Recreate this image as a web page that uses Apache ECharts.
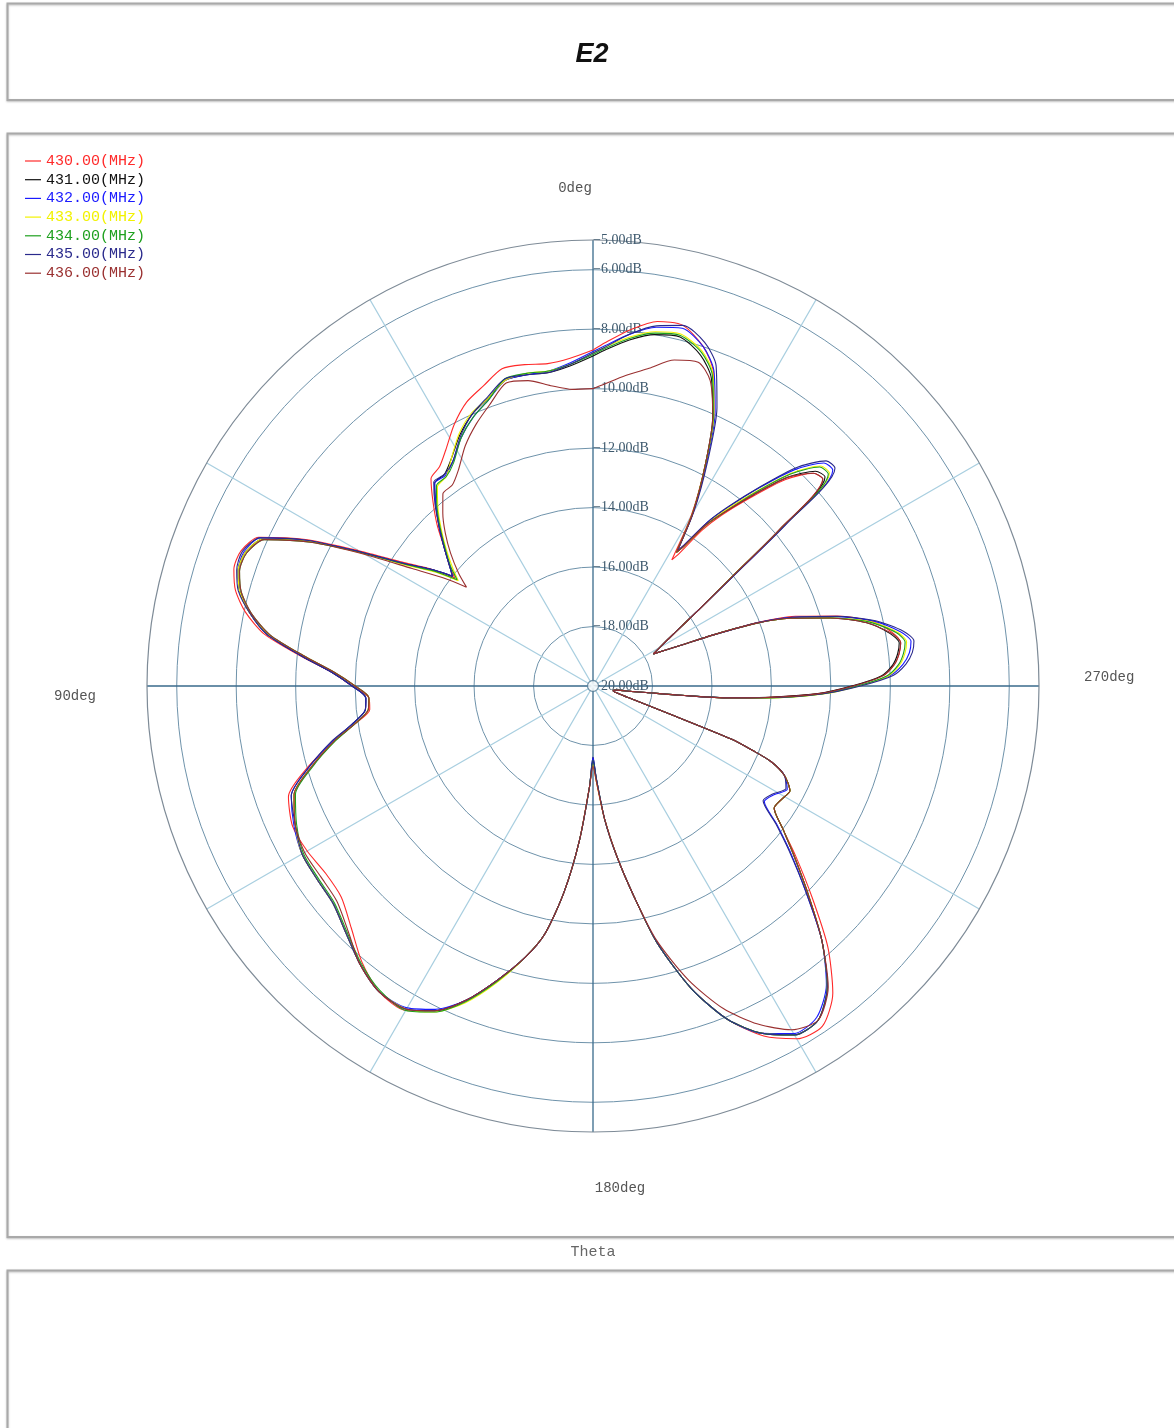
<!DOCTYPE html>
<html><head><meta charset="utf-8">
<script src="https://cdn.jsdelivr.net/npm/echarts@6/dist/echarts.min.js"></script>
<style>html,body{margin:0;padding:0;background:#fff}#c{width:1174px;height:1428px}</style>
</head><body><div id="c"></div>
<script>
// Theta angles (deg), shared by all frequency curves
const angles = [0,4,8,12,16,20,24,28,32,35,38,41,44,47,50,52,54,57,60,63,66,69,72,75,78,81,84,87,90,93,96,99,102,106,110,115,120,125,130,135,140,145,150,154,158,162,166,169,172,175,178,180,182,185,188,191,194,198,202,206,210,214,218,222,226,230,233,236,239,242,245,247,248,249,250,251,252,254,256,258,260,262,263,264,265,266,268,270,272,274,276,278,280,283,286,289,291,293,295,298,300,302,304,306,308,310,312,314,317,320,323,325,327,328,330,333,336,339,342,346,350,354,358,360];

const seriesNames = ['430.00(MHz)','431.00(MHz)','432.00(MHz)','433.00(MHz)','434.00(MHz)','435.00(MHz)','436.00(MHz)'];
const seriesColors = ['#ff2a2a','#111111','#1a1aff','#f2f200','#1ea01e','#2a2a8c','#9a3030'];

const s430 = [-8.7,-8.95,-9.05,-8.95,-8.9,-9.25,-9.55,-10.05,-10.65,-11.0,-11.15,-11.8,-12.45,-13.15,-13.7,-14.1,-13.35,-12.35,-10.9,-9.15,-7.7,-7.32,-7.3,-7.55,-8.05,-8.8,-10.05,-11.2,-11.9,-12.45,-12.45,-11.9,-11.1,-10.0,-9.1,-8.85,-8.9,-9.02,-8.95,-8.5,-7.9,-7.45,-7.4,-7.85,-8.6,-9.6,-10.6,-11.5,-13.0,-14.8,-16.6,-17.4,-16.8,-15.5,-14.2,-12.8,-11.1,-9.3,-7.9,-6.9,-6.3,-6.2,-6.9,-8.2,-9.75,-11.1,-12.0,-12.65,-12.6,-12.5,-12.9,-13.5,-14.2,-15.0,-17.3,-18.3,-18.8,-19.2,-19.3,-19.3,-19.2,-18.7,-18.2,-16.95,-15.35,-14.35,-12.45,-11.25,-10.25,-9.85,-9.65,-9.55,-9.75,-10.35,-11.45,-12.8,-14.0,-15.6,-16.8,-17.7,-17.4,-17.0,-16.4,-15.5,-14.2,-11.8,-9.6,-9.7,-10.5,-11.7,-12.8,-13.6,-14.7,-15.0,-13.4,-11.7,-10.0,-8.7,-8.0,-7.5,-7.55,-7.95,-8.45,-8.7];
const s431 = [-8.9,-9.2,-9.35,-9.3,-9.3,-9.7,-10.0,-10.45,-11.0,-11.3,-11.35,-11.95,-12.55,-13.15,-13.7,-14.0,-13.35,-12.45,-11.0,-9.3,-7.85,-7.47,-7.45,-7.7,-8.2,-8.9,-10.1,-11.2,-11.9,-12.35,-12.3,-11.8,-11.1,-10.15,-9.3,-8.95,-8.7,-8.67,-8.6,-8.25,-7.8,-7.45,-7.45,-7.85,-8.6,-9.6,-10.6,-11.5,-13.0,-14.8,-16.6,-17.6,-16.9,-15.5,-14.2,-12.8,-11.1,-9.3,-7.9,-7.0,-6.45,-6.45,-7.2,-8.5,-9.95,-11.2,-12.0,-12.65,-12.6,-12.5,-12.9,-13.5,-14.2,-15.0,-17.3,-18.3,-18.8,-19.2,-19.3,-19.3,-19.2,-18.7,-18.2,-17.0,-15.4,-14.4,-12.5,-11.3,-10.3,-9.9,-9.7,-9.6,-9.85,-10.55,-11.7,-13.0,-14.1,-15.6,-16.8,-17.7,-17.4,-17.0,-16.4,-15.5,-14.2,-11.8,-9.5,-9.6,-10.4,-11.6,-12.7,-13.4,-14.4,-14.7,-13.3,-11.7,-10.1,-8.9,-8.3,-7.9,-8.0,-8.3,-8.7,-8.9];
const s432 = [-8.75,-9.1,-9.3,-9.3,-9.3,-9.75,-10.1,-10.55,-11.1,-11.35,-11.35,-11.95,-12.55,-13.15,-13.7,-14.0,-13.35,-12.45,-11.0,-9.25,-7.75,-7.42,-7.45,-7.7,-8.2,-8.9,-10.1,-11.2,-11.9,-12.35,-12.3,-11.8,-11.05,-10.05,-9.2,-8.9,-8.7,-8.67,-8.6,-8.25,-7.8,-7.45,-7.5,-7.9,-8.6,-9.6,-10.6,-11.5,-13.0,-14.8,-16.6,-17.6,-16.9,-15.5,-14.2,-12.8,-11.1,-9.3,-7.9,-7.0,-6.5,-6.55,-7.25,-8.5,-10.05,-11.35,-12.25,-13.05,-12.9,-12.6,-12.9,-13.5,-14.2,-15.0,-17.3,-18.3,-18.8,-19.2,-19.3,-19.3,-19.2,-18.7,-18.2,-17.0,-15.4,-14.3,-12.35,-11.1,-10.0,-9.55,-9.3,-9.2,-9.5,-10.3,-11.55,-12.9,-14.05,-15.6,-16.8,-17.7,-17.4,-17.0,-16.4,-15.5,-14.1,-11.55,-9.15,-9.2,-10.05,-11.3,-12.5,-13.25,-14.3,-14.65,-13.25,-11.6,-9.9,-8.65,-8.0,-7.6,-7.75,-8.1,-8.55,-8.75];
const s433 = [-8.8,-9.15,-9.3,-9.25,-9.3,-9.7,-9.95,-10.4,-11.0,-11.4,-11.5,-12.05,-12.65,-13.25,-13.85,-14.25,-13.5,-12.55,-11.1,-9.3,-7.85,-7.47,-7.45,-7.7,-8.2,-8.95,-10.2,-11.3,-12.0,-12.45,-12.4,-11.9,-11.1,-10.15,-9.3,-8.95,-8.7,-8.67,-8.6,-8.25,-7.8,-7.45,-7.45,-7.8,-8.5,-9.5,-10.6,-11.5,-13.0,-14.8,-16.6,-17.4,-16.8,-15.5,-14.2,-12.8,-11.1,-9.3,-7.9,-7.0,-6.45,-6.45,-7.2,-8.5,-9.95,-11.2,-12.0,-12.65,-12.6,-12.5,-12.9,-13.5,-14.2,-15.0,-17.3,-18.3,-18.8,-19.2,-19.3,-19.3,-19.2,-18.7,-18.2,-17.0,-15.3,-14.15,-12.25,-11.05,-10.05,-9.65,-9.45,-9.35,-9.6,-10.4,-11.7,-13.0,-14.1,-15.6,-16.8,-17.7,-17.4,-17.0,-16.4,-15.5,-14.2,-11.7,-9.3,-9.35,-10.2,-11.45,-12.6,-13.4,-14.4,-14.7,-13.3,-11.7,-10.0,-8.75,-8.15,-7.8,-7.9,-8.2,-8.6,-8.8];
const s434 = [-8.85,-9.15,-9.3,-9.25,-9.25,-9.75,-10.1,-10.55,-11.15,-11.4,-11.45,-12.0,-12.6,-13.2,-13.75,-14.2,-13.45,-12.5,-11.05,-9.35,-7.9,-7.52,-7.5,-7.75,-8.25,-9.0,-10.2,-11.3,-12.0,-12.45,-12.4,-11.9,-11.15,-10.2,-9.35,-9.0,-8.75,-8.72,-8.65,-8.3,-7.85,-7.5,-7.4,-7.8,-8.55,-9.55,-10.6,-11.5,-13.0,-14.8,-16.6,-17.5,-16.9,-15.5,-14.2,-12.8,-11.1,-9.3,-7.9,-7.0,-6.45,-6.45,-7.2,-8.5,-9.95,-11.2,-12.0,-12.65,-12.6,-12.5,-12.9,-13.5,-14.2,-15.0,-17.3,-18.3,-18.8,-19.2,-19.3,-19.3,-19.2,-18.7,-18.2,-17.0,-15.35,-14.2,-12.3,-11.1,-10.1,-9.7,-9.5,-9.4,-9.65,-10.45,-11.7,-13.0,-14.1,-15.6,-16.8,-17.7,-17.4,-17.0,-16.4,-15.5,-14.2,-11.7,-9.35,-9.4,-10.25,-11.5,-12.7,-13.4,-14.4,-14.7,-13.3,-11.7,-10.05,-8.8,-8.2,-7.85,-7.95,-8.25,-8.65,-8.85];
const s435 = [-8.8,-9.15,-9.35,-9.3,-9.25,-9.65,-10.0,-10.5,-11.1,-11.3,-11.3,-11.9,-12.55,-13.15,-13.7,-14.0,-13.35,-12.45,-11.0,-9.2,-7.75,-7.37,-7.4,-7.65,-8.2,-8.9,-10.1,-11.2,-11.9,-12.35,-12.3,-11.8,-11.0,-10.05,-9.2,-8.95,-8.7,-8.67,-8.6,-8.25,-7.8,-7.45,-7.45,-7.85,-8.6,-9.6,-10.6,-11.5,-13.0,-14.8,-16.6,-17.5,-16.9,-15.5,-14.2,-12.8,-11.1,-9.3,-7.9,-7.0,-6.45,-6.45,-7.2,-8.5,-10.05,-11.4,-12.3,-13.1,-12.95,-12.65,-12.9,-13.5,-14.2,-15.0,-17.3,-18.3,-18.8,-19.2,-19.3,-19.3,-19.2,-18.7,-18.2,-17.0,-15.4,-14.3,-12.3,-11.0,-9.9,-9.45,-9.2,-9.1,-9.4,-10.25,-11.5,-12.9,-14.05,-15.6,-16.8,-17.7,-17.4,-17.0,-16.4,-15.5,-14.05,-11.45,-9.05,-9.1,-9.95,-11.25,-12.45,-13.25,-14.3,-14.65,-13.2,-11.5,-9.75,-8.45,-7.85,-7.5,-7.7,-8.1,-8.6,-8.8];
const s436 = [-10.0,-10.0,-9.8,-9.5,-9.4,-9.9,-10.35,-10.85,-11.45,-11.75,-11.8,-12.3,-12.85,-13.45,-14.1,-14.6,-13.85,-12.75,-11.15,-9.35,-7.9,-7.52,-7.5,-7.75,-8.25,-9.0,-10.2,-11.3,-12.0,-12.45,-12.4,-11.9,-11.1,-10.15,-9.3,-8.95,-8.8,-8.82,-8.75,-8.35,-7.8,-7.45,-7.45,-7.85,-8.6,-9.6,-10.6,-11.5,-13.0,-14.8,-16.6,-17.3,-16.8,-15.5,-14.2,-12.8,-11.2,-9.6,-8.3,-7.35,-6.65,-6.45,-7.15,-8.5,-9.95,-11.2,-12.0,-12.65,-12.6,-12.5,-12.9,-13.5,-14.2,-15.0,-17.3,-18.3,-18.8,-19.2,-19.3,-19.3,-19.2,-18.7,-18.2,-17.0,-15.4,-14.35,-12.45,-11.25,-10.25,-9.85,-9.65,-9.55,-9.8,-10.55,-11.7,-13.0,-14.1,-15.6,-16.8,-17.7,-17.4,-17.0,-16.4,-15.5,-14.2,-11.8,-9.6,-9.7,-10.4,-11.6,-12.7,-13.4,-14.4,-14.7,-13.3,-11.7,-10.1,-9.0,-8.55,-8.7,-9.15,-9.5,-9.85,-10.0];
const seriesValues = [s430, s431, s432, s433, s434, s435, s436];

// radial tick labels (dB) shown on the vertical axis
const radiusLabelValues = [-5,-6,-8,-10,-12,-14,-16,-18,-20];
// angle labels
const angleLabelValues = [0, 90, 180, 270];

const serif = '"Liberation Serif","DejaVu Serif",serif';
const mono = '"Liberation Mono","DejaVu Sans Mono",monospace';
const chart = echarts.init(document.getElementById('c'), null, {renderer:'canvas'});

const circle = '#6f93ab', circleOuter = '#7e8b97', clear = 'rgba(0,0,0,0)';
const series = seriesNames.map((n, i) => ({
  name: n, type: 'line', coordinateSystem: 'polar',
  data: seriesValues[i].map((v, j) => [v, angles[j]]),
  showSymbol: false, symbol: 'none', smooth: 0.25,
  lineStyle: {color: seriesColors[i], width: 1.1},
  itemStyle: {color: seriesColors[i]},
  emphasis: {disabled: true}, animation: false, z: 3 + i * 0.01
}));
series.push({
  type: 'scatter', coordinateSystem: 'polar', name: 'center', silent: true,
  data: [[-20, 0]], symbol: 'circle', symbolSize: 11, z: 10,
  itemStyle: {color: '#ffffff', borderColor: '#4f7894', borderWidth: 1.3}
});

const box = (y, h) => ({
  type: 'rect', shape: {x: 7.5, y: y, width: 1175, height: h},
  style: {fill: 'none', stroke: '#a9a9a9', lineWidth: 2, shadowBlur: 2, shadowColor: 'rgba(0,0,0,0.25)', shadowOffsetY: 1}, silent: true
});
const angleRich = (pad) => ({fontFamily: mono, fontSize: 14, color: '#555', padding: pad});

chart.setOption({
  backgroundColor: '#ffffff',
  animation: false,
  title: [
    {text: 'E2', left: 587, top: 36, textAlign: 'center',
     textStyle: {fontFamily: '"Liberation Sans",Arial,sans-serif', fontSize: 27, fontWeight: 'bold', fontStyle: 'italic', color: '#111'}},
    {text: 'Theta', left: 588, top: 1240, textAlign: 'center',
     textStyle: {fontFamily: mono, fontSize: 15, fontWeight: 'normal', color: '#666'}}
  ],
  graphic: [box(3.5, 96.5), box(133.5, 1103.5), box(1270.5, 170)],
  legend: {
    orient: 'vertical', left: 20, top: 148, itemWidth: 16, itemHeight: 1.2, itemGap: 2.7,
    icon: 'rect', selectedMode: false,
    textStyle: {fontFamily: mono, fontSize: 15, lineHeight: 16},
    data: seriesNames.map((n, i) => ({name: n, textStyle: {color: seriesColors[i]}}))
  },
  polar: {center: [593, 686], radius: 446},
  angleAxis: {
    type: 'value', min: 0, max: 360, interval: 30, startAngle: 90, clockwise: false,
    axisLine: {show: true, lineStyle: {color: circleOuter, width: 1.2}},
    axisTick: {show: false},
    axisLabel: {
      margin: 45, color: '#555', fontFamily: mono, fontSize: 14,
      formatter: v => angleLabelValues.includes(v) ? '{a' + v + '|' + v + 'deg}' : '',
      rich: {
        a0: angleRich([0, 36, 0, 0]),
        a90: angleRich([20, 6, 0, 0]),
        a180: angleRich([4, 0, 0, 54]),
        a270: angleRich([0, 0, 18, 0])
      }
    },
    splitLine: {show: true, lineStyle: {color: ['#3a6b8c', '#a9cfe0', '#a9cfe0'], width: 1.3}}
  },
  radiusAxis: {
    type: 'value', min: -20, max: -5, interval: 1,
    axisLine: {show: false}, axisTick: {show: false},
    axisLabel: {
      margin: 0, color: '#3f5a6e', fontFamily: serif, fontSize: 14, align: 'left',
      formatter: v => radiusLabelValues.includes(v) ? '\u2212' + Math.abs(v).toFixed(2) + 'dB' : ''
    },
    splitLine: {show: true, lineStyle: {width: 1, color: [clear, clear, circle, clear, circle, clear, circle, clear, circle, clear, circle, clear, circle, clear, circle, clear]}}
  },
  series: series
});
</script></body></html>
